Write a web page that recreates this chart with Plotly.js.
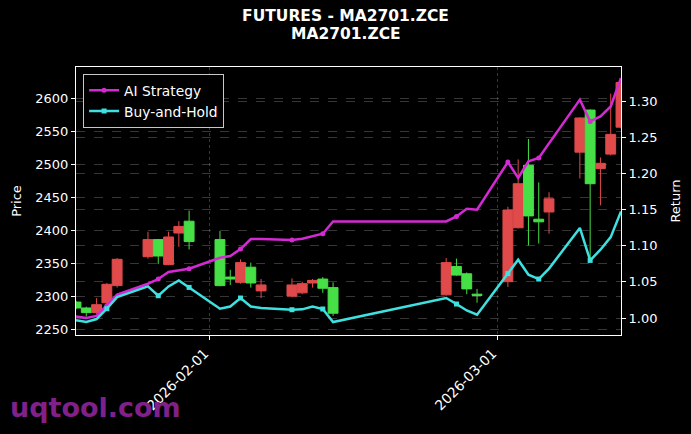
<!DOCTYPE html>
<html>
<head>
<meta charset="utf-8">
<script src="https://cdn.plot.ly/plotly-3.0.1.min.js"></script>
<style>
  html, body { margin: 0; padding: 0; background: #000; }
  #chart { width: 691px; height: 434px; }
</style>
</head>
<body>
<div id="chart"></div>
<script>
// ---- data ----
const dates = [
  '2026-01-19','2026-01-20','2026-01-21','2026-01-22','2026-01-23',
  '2026-01-26','2026-01-27','2026-01-28','2026-01-29','2026-01-30',
  '2026-02-02','2026-02-03','2026-02-04','2026-02-05','2026-02-06',
  '2026-02-09','2026-02-10','2026-02-11','2026-02-12','2026-02-13',
  '2026-02-24','2026-02-25','2026-02-26','2026-02-27',
  '2026-03-02','2026-03-03','2026-03-04','2026-03-05','2026-03-06',
  '2026-03-09','2026-03-10','2026-03-11','2026-03-12','2026-03-13'
];
const openP  = [2291,2282,2275,2290,2316, 2360,2386,2348,2396,2414, 2386,2329,2321,2344,2308, 2300,2305,2320,2326,2313, 2302,2345,2334,2303, 2322,2404,2499,2417,2428, 2519,2583,2494,2516,2557];
const highP  = [2293,2284,2297,2320,2358, 2398,2387,2398,2414,2430, 2399,2340,2356,2351,2326, 2327,2322,2326,2329,2321, 2358,2357,2336,2311, 2436,2508,2539,2473,2458, 2572,2584,2511,2608,2630];
const lowP   = [2280,2269,2273,2288,2313, 2357,2349,2347,2375,2371, 2315,2317,2319,2313,2297, 2298,2303,2313,2305,2270, 2301,2331,2303,2290, 2314,2403,2377,2380,2395, 2479,2355,2438,2514,2555];
const closeP = [2282,2275,2287,2318,2356, 2386,2361,2390,2406,2383, 2316,2326,2351,2320,2317, 2317,2319,2324,2312,2274, 2351,2332,2311,2301, 2431,2471,2422,2413,2448, 2571,2471,2502,2546,2625];

const aiReturn = [1.0022,1.0000,1.0030,1.0170,1.0323, 1.0475,1.0540,1.0637,1.0660,1.0683, 1.0835,1.0858,1.0955,1.1094,1.1094, 1.1080,1.1098,1.1130,1.1168,1.1338, 1.1338,1.1407,1.1514,1.1500, 1.2160,1.1940,1.2169,1.2216,1.2420, 1.3024,1.2723,1.2792,1.2930,1.3324];
const bhReturn = [0.9970,0.9945,0.9986,1.0129,1.0290, 1.0438,1.0309,1.0438,1.0520,1.0424, 1.0129,1.0160,1.0277,1.0160,1.0138, 1.0115,1.0120,1.0160,1.0125,0.9945, 1.0277,1.0194,1.0105,1.0046, 1.0615,1.0807,1.0600,1.0540,1.0685, 1.1247,1.0798,1.0946,1.1120,1.1476];

const signalDates = ['2026-01-22','2026-01-27','2026-01-30','2026-02-04','2026-02-09','2026-02-12','2026-02-25','2026-03-02','2026-03-05','2026-03-10'];

const xTicks = ['2026-02-01','2026-03-01'];
const xTickText = ['2026-02-01','2026-03-01'];

const titleLine1 = 'FUTURES - MA2701.ZCE';
const titleLine2 = 'MA2701.ZCE';

// ---- styles ----
const RED = '#e04a4a';
const GREEN = '#46e046';
const MAGENTA = '#d42ad4';
const CYAN = '#3fe0e0';
const GRID = 'rgba(150,150,150,0.45)';
const TICK = 13;
const signalIdx = signalDates.map(d => dates.indexOf(d));

const traces = [
  {
    type: 'candlestick',
    x: dates, open: openP, high: highP, low: lowP, close: closeP,
    increasing: {line: {color: RED, width: 1}, fillcolor: RED},
    decreasing: {line: {color: GREEN, width: 1}, fillcolor: GREEN},
    whiskerwidth: 0,
    showlegend: false,
    xaxis: 'x', yaxis: 'y'
  },
  {
    type: 'scatter', mode: 'lines+markers', name: 'AI Strategy',
    x: dates, y: aiReturn,
    line: {color: MAGENTA, width: 2.5},
    marker: {color: MAGENTA, size: 5, symbol: 'circle'},
    selectedpoints: signalIdx,
    selected: {marker: {opacity: 1}},
    unselected: {marker: {opacity: 0}},
    xaxis: 'x', yaxis: 'y2'
  },
  {
    type: 'scatter', mode: 'lines+markers', name: 'Buy-and-Hold',
    x: dates, y: bhReturn,
    line: {color: CYAN, width: 2.5},
    marker: {color: CYAN, size: 5, symbol: 'square'},
    selectedpoints: signalIdx,
    selected: {marker: {opacity: 1}},
    unselected: {marker: {opacity: 0}},
    xaxis: 'x', yaxis: 'y2'
  }
];

const layout = {
  width: 691, height: 434,
  paper_bgcolor: '#000', plot_bgcolor: '#000',
  font: {family: 'DejaVu Sans', color: '#fff', size: TICK},
  margin: {l: 76, r: 70, t: 67, b: 99, pad: 0},
  boxgap: 0.04,
  boxgroupgap: 0,
  title: {
    text: titleLine1,
    font: {family: 'DejaVu Sans', size: 15.5, color: '#fff', weight: 'bold'},
    x: 0.5, xref: 'container', xanchor: 'center',
    y: 1 - 15.5 / 434, yref: 'container', yanchor: 'middle'
  },
  showlegend: true,
  legend: {
    x: 0.013, y: 0.975, xanchor: 'left', yanchor: 'top',
    bgcolor: '#000', bordercolor: '#c8c8c8', borderwidth: 1,
    font: {size: 13.8, color: '#fff'},
    itemwidth: 30, tracegroupgap: 0
  },
  xaxis: {
    type: 'date',
    range: ['2026-01-19', '2026-03-13'],
    tickmode: 'array', tickvals: xTicks, ticktext: xTickText,
    tickangle: -45,
    ticklabelshift: -5,
    ticks: 'outside', ticklen: 4, tickcolor: '#fff',
    showline: true, linecolor: '#fff', linewidth: 1, mirror: true,
    showgrid: true, gridcolor: GRID, griddash: 'dot', gridwidth: 0.8,
    zeroline: false,
    rangeslider: {visible: false},
    tickfont: {size: 13.8, color: '#fff'}
  },
  yaxis: {
    range: [2240.9, 2648.5],
    tick0: 2250, dtick: 50,
    ticks: 'outside', ticklen: 4, tickcolor: '#fff',
    showline: true, linecolor: '#fff', linewidth: 1,
    showgrid: true, gridcolor: GRID, griddash: 'dash', gridwidth: 0.8,
    zeroline: false,
    title: {text: 'Price', font: {size: 13, color: '#fff'}, standoff: 10},
    tickfont: {size: TICK, color: '#fff'}
  },
  yaxis2: {
    overlaying: 'y', side: 'right',
    range: [0.9765, 1.3476],
    tick0: 1.0, dtick: 0.05, tickformat: '.2f',
    ticks: 'outside', ticklen: 4, tickcolor: '#fff',
    showline: true, linecolor: '#fff', linewidth: 1,
    showgrid: true, gridcolor: GRID, griddash: 'dash', gridwidth: 0.8,
    zeroline: false,
    title: {text: 'Return', font: {size: 13, color: '#fff'}, standoff: 14},
    tickfont: {size: TICK, color: '#fff'}
  },
  annotations: [
    {
      text: titleLine2,
      xref: 'paper', yref: 'paper',
      x: (345.5 - 76) / 545, y: 1 + (67 - 33.5) / 268,
      xanchor: 'center', yanchor: 'middle',
      showarrow: false,
      font: {family: 'DejaVu Sans', size: 15.5, color: '#fff', weight: 'bold'}
    },
    {
      text: 'uqtool.com',
      xref: 'paper', yref: 'paper',
      x: -0.125, y: -0.27, xanchor: 'left', yanchor: 'middle',
      showarrow: false,
      font: {family: 'DejaVu Sans', size: 27, color: '#80208a', weight: 'bold'}
    }
  ]
};

Plotly.newPlot('chart', traces, layout, {displayModeBar: false, staticPlot: true});
</script>
</body>
</html>
